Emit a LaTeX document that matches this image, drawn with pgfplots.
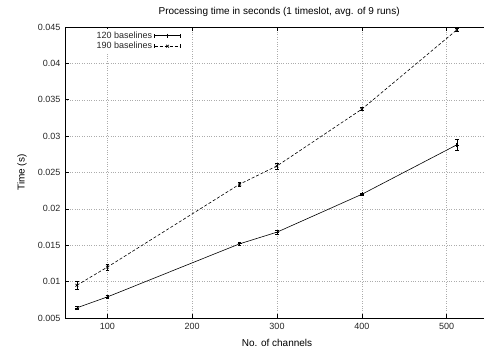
\documentclass[border=0pt]{standalone}
\usepackage{pgfplots}
\pgfplotsset{compat=1.18}
\usepackage{fontspec}
\setmainfont{Liberation Sans}
\begin{document}
\begin{tikzpicture}
\begin{axis}[
  name=ax,
  scale only axis,
  width=424pt, height=291pt,
  xmin=50, xmax=550,
  ymin=0.005, ymax=0.045,
  xtick={100,200,300,400,500},
  ytick={0.005,0.01,0.015,0.02,0.025,0.03,0.035,0.04,0.045},
  yticklabels={0.005,0.01,0.015,0.02,0.025,0.03,0.035,0.04,0.045},
  scaled y ticks=false,
  tick align=inside,
  major tick length=4pt,
  xtick pos=both,
  ytick pos=both,
  grid=major,
  grid style={gray!65, dotted, line width=0.5pt},
  tick style={black, line width=0.6pt},
  axis line style={line width=0.8pt},
  /pgf/number format/assume math mode=true,
  tick label style={font=\fontsize{9}{10}\selectfont, text=black!85},
  yticklabel style={xshift=-1pt},
  xticklabel style={yshift=-2pt},
  label style={font=\fontsize{9}{10}\selectfont, text=black!85},
  title style={font=\fontsize{9}{10}\selectfont, text=black!85},
  title={Processing time in seconds (1 timeslot, avg. of 9 runs)},
  every axis title/.style={at={(axis description cs:0.505,1.0515)}, anchor=center},
  xlabel={No. of channels},
  every axis x label/.style={at={(axis description cs:0.500,-0.086)}, anchor=center},
  ylabel={Time (s)},
  every axis y label/.style={at={(axis description cs:-0.1015,0.5)}, anchor=center, rotate=90},
  legend style={draw=none, fill=white, at={(axis description cs:0.276,0.995)}, anchor=north east,
    text=black!85, row sep=-1.5pt, inner sep=1pt, font=\fontsize{9}{10}\selectfont},
  legend cell align=right,
  legend plot pos=right,
  legend image code/.code={
    \draw[mark repeat=2,mark phase=2,#1] plot coordinates {(0pt,0pt)(13pt,0pt)(26pt,0pt)};
    \draw[solid, line width=0.6pt] (0pt,-2pt)--(0pt,2pt) (26pt,-2pt)--(26pt,2pt);
  },
]
\addplot[black, line width=0.6pt, mark=+, mark size=2pt,
  error bars/.cd, y dir=both, y explicit, error mark options={rotate=90, mark size=1.8pt, line width=0.6pt}]
  table[x=x, y=y, y error=e] {
x y e
64 0.0064 0.0002
100 0.0079 0.0002
256 0.0152 0.0002
300 0.0168 0.0003
400 0.0220 0.0002
512 0.0288 0.0007
};
\addlegendentry{120 baselines}
\addplot[black, line width=0.6pt, densely dashed, mark=x, mark size=2pt, mark options={solid},
  error bars/.cd, y dir=both, y explicit, error mark options={rotate=90, mark size=1.8pt, line width=0.6pt, solid}, error bar style={solid}]
  table[x=x, y=y, y error=e] {
x y e
64 0.0095 0.0005
100 0.0120 0.0004
256 0.0234 0.0003
300 0.0259 0.0004
400 0.0337 0.0002
512 0.0446 0.0002
};
\addlegendentry{190 baselines}
\end{axis}
\pgfresetboundingbox
\path[use as bounding box] ([xshift=-65pt,yshift=-33pt]ax.south west) rectangle ([xshift=419pt,yshift=27pt]ax.north west);
\end{tikzpicture}
\end{document}
